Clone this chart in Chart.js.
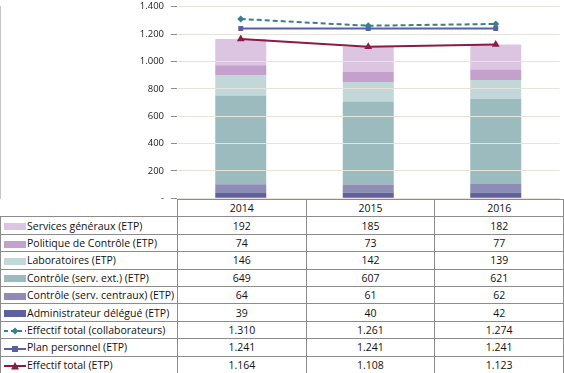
<!DOCTYPE html>
<html lang="fr">
<head>
<meta charset="UTF-8">
<title>Effectifs</title>
<script src="https://cdn.jsdelivr.net/npm/chart.js"></script>
<style>
  html, body { margin: 0; padding: 0; background: #fff; }
  body { width: 564px; height: 373px; position: relative; overflow: hidden; font-family: "Open Sans", sans-serif; }
  .chart-box { position: absolute; left: 0; top: -6px; width: 564px; height: 217px; }
  table.data {
    position: absolute; left: 0; top: 199px; width: 564px;
    border-collapse: collapse; table-layout: fixed; font-size: 10.5px; color: #111; background: #fff;
  }
  table.data td { border: 1px solid #8c8c8c; height: 16.4px; padding: 0; text-align: center; white-space: nowrap; }
  table.data td.blank { border-top: none; border-left: none; }
  table.data td.name { text-align: left; padding-left: 3px; }
  .key { display: inline-block; vertical-align: middle; width: 22px; height: 7px; margin-right: 1px; }
  .name svg { vertical-align: middle; margin-right: 1px; }
</style>
</head>
<body>
<div class="chart-box"><canvas id="effectifs"></canvas></div>
<table class="data" id="tbl"></table>
<script>
  // donnees
  const years = ['2014', '2015', '2016'];
  const servicesGeneraux = [192, 185, 182];
  const politiqueControle = [74, 73, 77];
  const laboratoires = [146, 142, 139];
  const controleExt = [649, 607, 621];
  const controleCentraux = [64, 61, 62];
  const adminDelegue = [39, 40, 42];
  const effectifCollab = [1310, 1261, 1274];
  const planPersonnel = [1241, 1241, 1241];
  const effectifEtp = [1164, 1108, 1123];
  const yTicks = [0, 200, 400, 600, 800, 1000, 1200, 1400];

  function fmt(v) {
    if (v === 0) return '-';
    return String(v).replace(/\B(?=(\d{3})+(?!\d))/g, '.');
  }

  // series dans l'ordre du tableau (haut -> bas)
  const rows = [
    { label: 'Services généraux (ETP)', data: servicesGeneraux, color: '#dcc5e0', kind: 'bar' },
    { label: 'Politique de Contrôle (ETP)', data: politiqueControle, color: '#c4a0cc', kind: 'bar' },
    { label: 'Laboratoires (ETP)', data: laboratoires, color: '#c2d7d8', kind: 'bar' },
    { label: 'Contrôle (serv. ext.) (ETP)', data: controleExt, color: '#9cbbbe', kind: 'bar' },
    { label: 'Contrôle (serv. centraux) (ETP)', data: controleCentraux, color: '#8c8cb5', kind: 'bar' },
    { label: 'Administrateur délégué (ETP)', data: adminDelegue, color: '#60609a', kind: 'bar' },
    { label: 'Effectif total (collaborateurs)', data: effectifCollab, color: '#3a7d96', kind: 'line', dash: [5, 3], marker: 'rectRot', r: 3.5 },
    { label: 'Plan personnel (ETP)', data: planPersonnel, color: '#5a5f9f', kind: 'line', dash: [], marker: 'rect', r: 3.5 },
    { label: 'Effectif total (ETP)', data: effectifEtp, color: '#8c1a46', kind: 'line', dash: [], marker: 'triangle', r: 4.5 }
  ];

  // datasets : barres empilees du bas vers le haut, lignes devant
  const datasets = [];
  rows.filter(r => r.kind === 'line').forEach(r => {
    datasets.push({
      type: 'line', label: r.label, data: r.data,
      borderColor: r.color, backgroundColor: r.color, borderWidth: 2, borderDash: r.dash,
      pointStyle: r.marker, pointRadius: r.r, pointBorderWidth: 0, tension: 0, order: 0, stack: 'l' + r.label
    });
  });
  rows.filter(r => r.kind === 'bar').slice().reverse().forEach(r => {
    datasets.push({
      type: 'bar', label: r.label, data: r.data, backgroundColor: r.color,
      stack: 'etp', order: 1, barPercentage: 0.4, categoryPercentage: 1
    });
  });

  new Chart(document.getElementById('effectifs'), {
    data: { labels: years, datasets: datasets },
    options: {
      responsive: true,
      maintainAspectRatio: false,
      animation: false,
      layout: { padding: 0 },
      plugins: { legend: { display: false }, tooltip: { enabled: false } },
      scales: {
        x: { display: false, stacked: true },
        y: {
          stacked: true,
          min: 0, max: 1400,
          afterFit: (s) => { s.width = 177; },
          afterBuildTicks: (s) => { s.ticks = yTicks.map(v => ({ value: v })); },
          border: { display: true, color: '#8c8c8c', width: 1 },
          grid: { color: '#e6e3d8', tickColor: '#8c8c8c', tickLength: 6, z: 1 },
          ticks: {
            color: '#222', padding: 7,
            font: { family: 'Open Sans', size: 9.5 },
            callback: (v) => fmt(v)
          }
        }
      }
    }
  });

  // tableau de donnees
  function keyHtml(r) {
    if (r.kind === 'bar') return '<span class="key" style="background:' + r.color + '"></span>';
    let m = '';
    if (r.marker === 'rectRot') m = '<polygon points="11,0.5 14.5,4 11,7.5 7.5,4" fill="' + r.color + '"/>';
    else if (r.marker === 'rect') m = '<rect x="8" y="1" width="6" height="6" fill="' + r.color + '"/>';
    else m = '<polygon points="11,0 15,7.5 7,7.5" fill="' + r.color + '"/>';
    const dash = r.dash.length ? ' stroke-dasharray="4,3"' : '';
    return '<svg width="22" height="8"><line x1="0" y1="4" x2="22" y2="4" stroke="' + r.color + '" stroke-width="2"' + dash + '/>' + m + '</svg>';
  }
  let html = '<colgroup><col style="width:177px"><col><col><col></colgroup>';
  html += '<tr><td class="blank"></td>' + years.map(y => '<td>' + y + '</td>').join('') + '</tr>';
  rows.forEach(r => {
    html += '<tr><td class="name">' + keyHtml(r) + r.label + '</td>' + r.data.map(v => '<td>' + fmt(v) + '</td>').join('') + '</tr>';
  });
  document.getElementById('tbl').innerHTML = html;
</script>
</body>
</html>
